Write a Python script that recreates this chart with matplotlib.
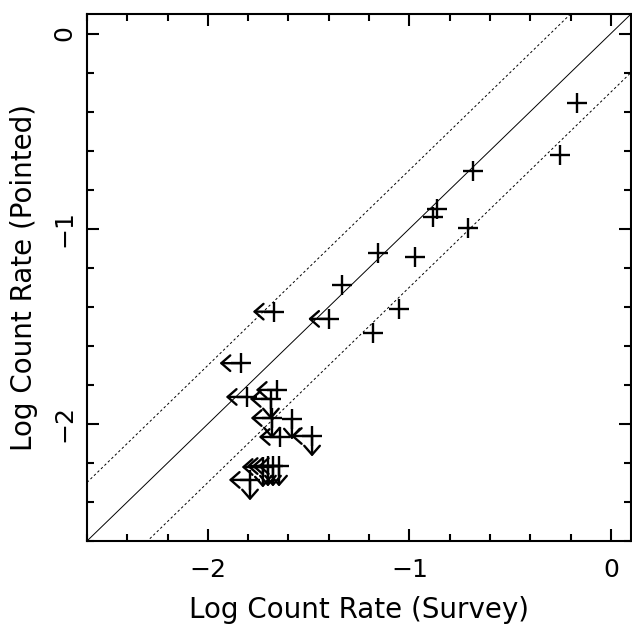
import matplotlib
matplotlib.use("Agg")
import matplotlib.pyplot as plt
import numpy as np
from matplotlib.ticker import MultipleLocator

# detections in both survey and pointed data
det_x = [-0.170, -0.253, -0.686, -0.711, -0.862, -0.884, -0.972, -1.154,
         -1.336, -1.052, -1.179]
det_y = [-0.356, -0.622, -0.704, -0.998, -0.900, -0.942, -1.143, -1.123,
         -1.288, -1.413, -1.536]

# upper limits: survey limit -> left arrow, pointed limit -> down arrow
lim_x = [-1.672, -1.397, -1.837, -1.806, -1.657, -1.687, -1.682, -1.583,
         -1.642, -1.483, -1.791, -1.727, -1.702, -1.677, -1.647]
lim_y = [-1.425, -1.462, -1.689, -1.862, -1.826, -1.872, -1.970, -1.975,
         -2.067, -2.062, -2.287, -2.221, -2.216, -2.216, -2.216]
lim_left = [1, 1, 1, 1, 1, 1, 1, 0, 1, 1, 1, 1, 1, 1, 1]
lim_down = [0, 0, 0, 0, 0, 1, 1, 1, 0, 1, 1, 1, 1, 1, 1]

x_ticks = [-2, -1, 0]
y_ticks = [-2, -1, 0]
lo, hi = -2.6, 0.1
offset = 0.3      # dashed lines y = x +/- offset
arr_len = 0.105

fig = plt.figure(figsize=(6.32, 6.28), dpi=100)
ax = fig.add_axes([87 / 632, 87 / 628, 544 / 632, 527 / 628])

line = np.array([lo, hi])
ax.plot(line, line, color="k", lw=0.7)
ax.plot(line, line + offset, color="k", lw=0.7, ls=(0, (2.5, 2.5)))
ax.plot(line, line - offset, color="k", lw=0.7, ls=(0, (2.5, 2.5)))

mk = dict(marker="+", ls="none", color="k", ms=14.5, mew=1.7)
ax.plot(det_x, det_y, **mk)
ax.plot(lim_x, lim_y, **mk)

aprops = dict(arrowstyle="->,head_length=0.32,head_width=0.28", lw=1.7,
              color="k", shrinkA=0, shrinkB=0, mutation_scale=20)
for x, y, l, d in zip(lim_x, lim_y, lim_left, lim_down):
    if l:
        ax.annotate("", xy=(x - arr_len, y), xytext=(x, y), arrowprops=aprops)
    if d:
        ax.annotate("", xy=(x, y - arr_len), xytext=(x, y), arrowprops=aprops)

ax.set_xlim(lo, hi)
ax.set_ylim(lo, hi)
ax.set_xticks(x_ticks)
ax.set_yticks(y_ticks)
ax.set_xticklabels([f"{t:d}".replace("-", "\u2212") for t in x_ticks])
ax.set_yticklabels([f"{t:d}".replace("-", "\u2212") for t in y_ticks],
                   rotation=90, va="center")
ax.xaxis.set_minor_locator(MultipleLocator(0.2))
ax.yaxis.set_minor_locator(MultipleLocator(0.2))
ax.tick_params(which="both", direction="in", top=True, right=True,
               width=1.5, labelsize=18, color="k")
ax.tick_params(which="major", length=8.5)
ax.tick_params(which="minor", length=5)
ax.tick_params(axis="x", which="major", pad=12)
ax.tick_params(axis="y", which="major", pad=8)
for s in ax.spines.values():
    s.set_linewidth(1.5)

ax.set_xlabel("Log Count Rate (Survey)", fontsize=20, labelpad=10)
ax.set_ylabel("Log Count Rate (Pointed)", fontsize=20, labelpad=10)

fig.savefig("out.png", dpi=100)
